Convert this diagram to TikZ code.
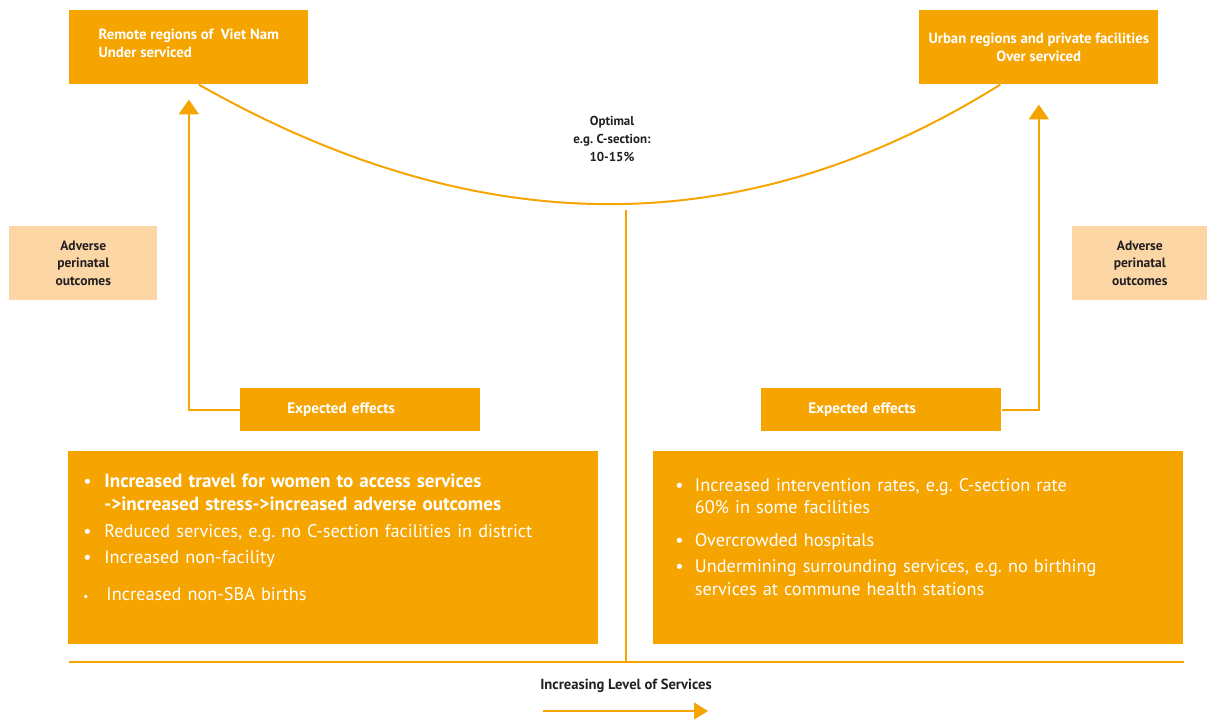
\documentclass[tikz,border=0pt]{standalone}
\usepackage{fontspec}
\setmainfont{PT Sans}
\usepackage{xcolor}
\usetikzlibrary{arrows.meta,positioning,calc}
\definecolor{svcorange}{HTML}{F5A400}
\definecolor{svcpeach}{HTML}{FDD6A5}
\definecolor{svcink}{HTML}{231F20}
\frenchspacing

\begin{document}
\begin{tikzpicture}[x=0.025cm,y=-0.025cm,
  region/.style={fill=svcorange,text=white,font=\fontsize{10.5}{12.8}\selectfont\bfseries,
                 minimum width=5.975cm,minimum height=1.85cm,anchor=north west},
  adverse/.style={fill=svcpeach,text=svcink,align=center,font=\fontsize{9.6}{12.4}\selectfont\bfseries,
                  minimum height=1.85cm,anchor=north west},
  effect/.style={fill=svcorange,text=white,font=\fontsize{10.8}{12}\selectfont\bfseries,align=left,
                 text width=3.65cm,inner xsep=1.175cm,minimum height=1.075cm,anchor=north west},
  effbox/.style={fill=svcorange,text=white,font=\fontsize{13}{16}\selectfont,align=left,
                 minimum height=4.825cm,anchor=north west},
  note/.style={text=svcink,align=center,font=\fontsize{9.2}{12.8}\selectfont\bfseries},
  link/.style={draw=svcorange,line width=1.4pt},
  >={Triangle[length=0.37cm,width=0.5cm]}]
\useasboundingbox (0,0) rectangle (1208,719);

% top regions
\node[region,align=left] (remote) at (69,10) {Remote regions of\ \ Viet Nam\\Under serviced\rule[-6pt]{0pt}{0pt}};
\node[region,align=center] (urban) at (919,10) {Urban regions and private facilities\\Over serviced};
\node[note] (optimal) at (612,139) {Optimal\\e.g. C-section:\\10-15\%};

% side outcomes
\node[adverse,minimum width=3.7cm] (advL) at (9,226) {Adverse\\perinatal\\outcomes};
\node[adverse,minimum width=3.375cm] (advR) at (1072,226) {Adverse\\perinatal\\outcomes};

% expected effects
\node[effect] (effL) at (240,388) {Expected effects};
\node[effect] (effR) at (761,388) {Expected effects};

\node[effbox,text width=12.5cm,inner xsep=0.375cm] (listL) at (68,451) {%
\begin{tabular}{@{}p{15pt}@{}l@{}}
\textbullet & {\fontsize{13.6}{16}\selectfont\bfseries Increased travel for women to access services}\\
 & {\fontsize{13.6}{16}\selectfont\bfseries ->increased stress->increased adverse outcomes}\\[3pt]
\textbullet & Reduced services, e.g. no C-section facilities in district\\[3pt]
\textbullet & Increased non-facility\\[10pt]
{\footnotesize\textbullet} & \hspace{1.5pt}Increased non-SBA births\\[11.5pt]
\end{tabular}};
\node[effbox,text width=12.15cm,inner xsep=0.55cm] (listR) at (653,451) {%
\begin{tabular}{@{}p{14pt}@{}l@{}}
\textbullet & Increased intervention rates, e.g. C-section rate\\
 & 60\% in some facilities\\[7.5pt]
\textbullet & Overcrowded hospitals\\[2.5pt]
\textbullet & Undermining surrounding services, e.g. no birthing\\
 & services at commune health stations\\[13pt]
\end{tabular}};

% curve, axis and arrows
\coordinate (dip) at (626,210);
\coordinate (axL) at (69,662);
\coordinate (axR) at (1184,662);
\draw[link] ([xshift=0.25cm]remote.south) .. controls (480,244) and (745,244) .. ([xshift=-0.9625cm]urban.south);
\draw[link] (dip) -- (dip |- axL);
\draw[link] (axL) -- (axR);
\draw[link,->] (effL.west) -| ([yshift=-0.375cm]remote.south);
\draw[link,->] (effR.east) -| ([yshift=-0.5cm]urban.south);

\node[note,font=\fontsize{10.4}{12}\selectfont\bfseries] (level) at (626,686) {Increasing Level of Services};
\coordinate (lvlA) at (543,711);
\coordinate (lvlB) at (708,711);
\draw[link,-{Triangle[length=0.35cm,width=0.42cm]}] (lvlA) -- (lvlB);
\end{tikzpicture}
\end{document}
